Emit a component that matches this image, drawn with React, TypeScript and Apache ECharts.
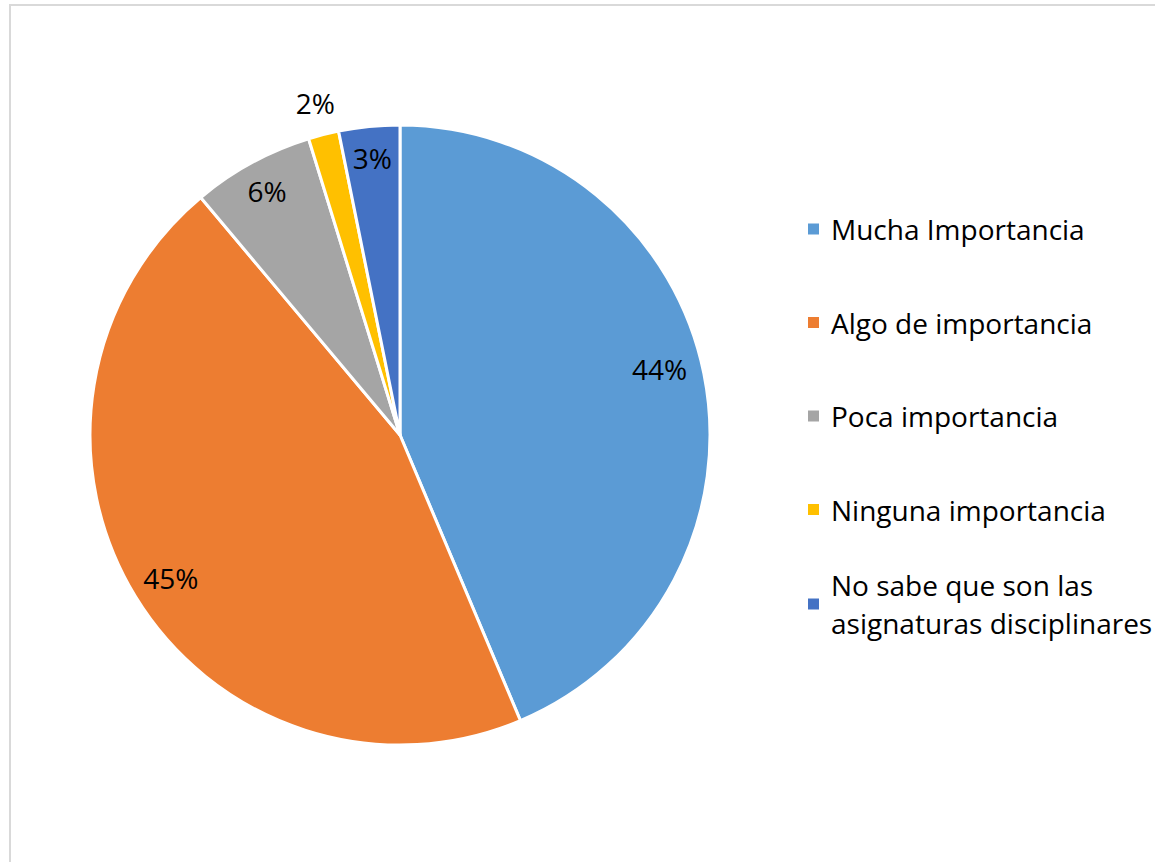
import React, { useEffect, useRef } from "react";
import * as echarts from "echarts";

const categories = [
  "Mucha Importancia",
  "Algo de importancia",
  "Poca importancia",
  "Ninguna importancia",
  "No sabe que son las asignaturas disciplinares",
];
const counts = [55, 57, 8, 2, 4];
const colors = ["#5B9BD5", "#ED7D31", "#A5A5A5", "#FFC000", "#4472C4"];
const legendLabels = [
  "Mucha Importancia",
  "Algo de importancia",
  "Poca importancia",
  "Ninguna importancia",
  "No sabe que son las\nasignaturas disciplinares",
];

const FONT = "Open Sans";
const FS = 28;

export default function App() {
  const ref = useRef<HTMLDivElement>(null);
  useEffect(() => {
    if (!ref.current) return;
    const chart = echarts.init(ref.current, undefined, { renderer: "svg" });
    const data = categories.map((name, i) => ({
      name,
      value: counts[i],
      itemStyle: { color: colors[i] },
    }));
    const labelData = categories.map((name, i) => ({ name, value: counts[i] }));
    const legendFormatter = (name: string) => legendLabels[categories.indexOf(name)];
    const labelOffsets: Record<number, { dx: number; dy: number }> = {
      0: { dx: -13, dy: -11 },
      1: { dx: 8, dy: -2 },
      3: { dx: -16, dy: -63 },
    };
    chart.setOption({
      animation: false,
      textStyle: { fontFamily: FONT },
      legend: [
        {
          orient: "vertical",
          left: 801,
          top: 205,
          itemWidth: 13,
          itemHeight: 13,
          itemGap: 55.5,
          icon: "rect",
          selectedMode: false,
          data: categories.slice(0, 4),
          formatter: legendFormatter,
          textStyle: {
            fontFamily: FONT,
            fontSize: FS,
            color: "#000",
            lineHeight: 38,
            padding: [0, 0, 0, 6],
          },
        },
        {
          orient: "vertical",
          left: 801,
          top: 542,
          itemWidth: 13,
          itemHeight: 13,
          icon: "rect",
          selectedMode: false,
          data: categories.slice(4),
          formatter: legendFormatter,
          textStyle: {
            fontFamily: FONT,
            fontSize: FS,
            color: "#000",
            lineHeight: 38,
            padding: [38, 0, 0, 6],
          },
        },
      ],
      series: [
        {
          type: "pie",
          center: [400, 435],
          radius: [0, 310],
          startAngle: 90,
          clockwise: true,
          label: { show: false },
          labelLine: { show: false },
          emphasis: { disabled: true },
          itemStyle: { borderColor: "#fff", borderWidth: 3 },
          data,
        },
        {
          type: "pie",
          center: [400, 435],
          radius: [210, 340],
          startAngle: 90,
          clockwise: true,
          silent: true,
          legendHoverLink: false,
          itemStyle: { color: "transparent", borderWidth: 0 },
          emphasis: { disabled: true },
          label: {
            show: true,
            position: "inside",
            fontFamily: FONT,
            fontSize: FS,
            color: "#000",
            formatter: (p: any) => Math.round(p.percent) + "%",
          },
          labelLine: { show: false },
          labelLayout: (p: any) => labelOffsets[p.dataIndex] || {},
          data: labelData,
        },
      ],
    });
    return () => chart.dispose();
  }, []);
  return (
    <div style={{ position: "absolute", left: 0, top: 0, width: 1155, height: 862, background: "#fff" }}>
      <div
        style={{
          position: "absolute",
          left: 9,
          top: 4,
          width: 1146,
          height: 858,
          borderTop: "2px solid #d9d9d9",
          borderLeft: "2px solid #d9d9d9",
          boxSizing: "border-box",
        }}
      />
      <div ref={ref} style={{ position: "absolute", left: 0, top: 0, width: 1155, height: 862 }} />
    </div>
  );
}
